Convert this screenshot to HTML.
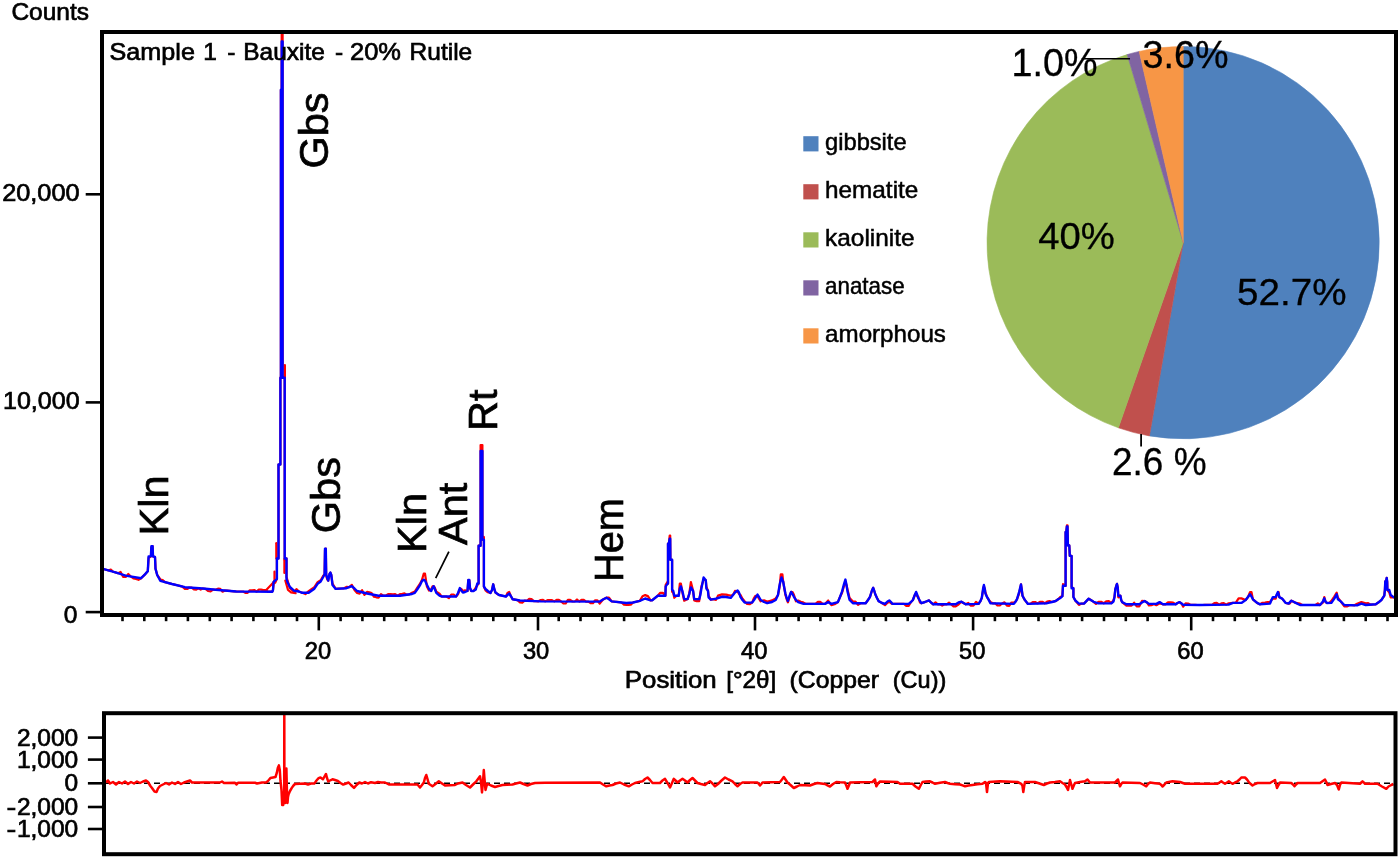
<!DOCTYPE html>
<html lang="en">
<head>
<meta charset="utf-8">
<title>Sample 1 - Bauxite - 20% Rutile</title>
<style>
html,body{margin:0;padding:0;background:#fff;}
body{width:1400px;height:859px;overflow:hidden;}
svg{display:block;filter:blur(0.5px);}
text{font-family:'Liberation Sans', sans-serif;fill:#000;}
.ui text{stroke:#000;stroke-width:0.7px;}
#pie text{stroke:#000;stroke-width:0.3px;}
.lg text{stroke:#000;stroke-width:0.5px;}
.rl text{stroke:#000;stroke-width:0.7px;}
</style>
</head>
<body>
<svg width="1400" height="859" viewBox="0 0 1400 859">
<rect x="0" y="0" width="1400" height="859" fill="#ffffff"/>
<defs>
<clipPath id="cm"><rect x="102" y="32" width="1294" height="583"/></clipPath>
<clipPath id="cr"><rect x="104" y="713" width="1292" height="141"/></clipPath>
</defs>

<g id="pie">
<path d="M1183.2 242.6 L1183.2 46.4 A196.2 196.2 0 1 1 1149.4 435.9 Z" fill="#4f81bd" stroke="#4f81bd" stroke-width="0.6"/>
<path d="M1183.2 242.6 L1149.4 435.9 A196.2 196.2 0 0 1 1118.4 427.8 Z" fill="#c0504d" stroke="#c0504d" stroke-width="0.6"/>
<path d="M1183.2 242.6 L1118.4 427.8 A196.2 196.2 0 0 1 1127.2 54.6 Z" fill="#9bbb59" stroke="#9bbb59" stroke-width="0.6"/>
<path d="M1183.2 242.6 L1127.2 54.6 A196.2 196.2 0 0 1 1139.2 51.4 Z" fill="#8064a2" stroke="#8064a2" stroke-width="0.6"/>
<path d="M1183.2 242.6 L1139.2 51.4 A196.2 196.2 0 0 1 1183.2 46.4 Z" fill="#f79646" stroke="#f79646" stroke-width="0.6"/>
<line x1="1081.7" y1="58.8" x2="1130" y2="58.8" stroke="#000" stroke-width="1.6"/>
<line x1="1141.1" y1="434" x2="1141.1" y2="446.5" stroke="#000" stroke-width="1.8"/>
<text x="1011.5" y="75.5" font-size="38.5" text-anchor="start" textLength="86" lengthAdjust="spacingAndGlyphs">1.0%</text>
<text x="1142.5" y="68.1" font-size="38.5" text-anchor="start" textLength="86" lengthAdjust="spacingAndGlyphs">3.6%</text>
<text x="1038.3" y="248.9" font-size="37.5" text-anchor="start" textLength="76.5" lengthAdjust="spacingAndGlyphs">40%</text>
<text x="1237" y="304.9" font-size="37.5" text-anchor="start" textLength="109.5" lengthAdjust="spacingAndGlyphs">52.7%</text>
<text x="1112" y="474.6" font-size="38.5" text-anchor="start" textLength="94.5" lengthAdjust="spacingAndGlyphs">2.6 %</text>
</g>
<g class="lg">
<rect x="803.3" y="136.2" width="15.2" height="15.2" fill="#4f81bd"/>
<text x="825.1" y="150" font-size="23.4" text-anchor="start" textLength="81.5" lengthAdjust="spacingAndGlyphs">gibbsite</text>
<rect x="803.3" y="184.2" width="15.2" height="15.2" fill="#c0504d"/>
<text x="825.1" y="198" font-size="23.4" text-anchor="start" textLength="93.2" lengthAdjust="spacingAndGlyphs">hematite</text>
<rect x="803.3" y="232.3" width="15.2" height="15.2" fill="#9bbb59"/>
<text x="825.1" y="246.1" font-size="23.4" text-anchor="start" textLength="89.4" lengthAdjust="spacingAndGlyphs">kaolinite</text>
<rect x="803.3" y="280.3" width="15.2" height="15.2" fill="#8064a2"/>
<text x="825.1" y="294.1" font-size="23.4" text-anchor="start" textLength="79.5" lengthAdjust="spacingAndGlyphs">anatase</text>
<rect x="803.3" y="328.3" width="15.2" height="15.2" fill="#f79646"/>
<text x="825.1" y="342.1" font-size="23.4" text-anchor="start" textLength="120.8" lengthAdjust="spacingAndGlyphs">amorphous</text>
</g>
<g clip-path="url(#cm)" fill="none" stroke-linejoin="round" stroke-linecap="round">
<polyline stroke="#ff0000" stroke-width="2.2" points="102,568 103.9,569.2 106.2,569.8 108.5,570.5 110.8,569.5 113.1,571.8 115.4,572.4 118,573.2 120.6,572 123.1,576.8 125.7,576.9 128.3,574 130.8,576.5 133.4,578.5 136,578.9 138.5,579.8 141.1,578.2 145,574.4 147.8,571.1 148.6,558 150.9,556.4 151.4,547.4 152.6,546.1 153,556.4 155,557 155.5,568.6 157.2,575 160.4,579.5 162.7,580.1 165,582.1 167.4,582.7 169.7,583.4 172,584 174.6,584.6 177.2,585.3 179.7,585.9 182.3,586.6 184.9,588.8 187.2,589 189.4,587.5 191.7,587.7 193.9,589.5 196.2,589.6 198.4,588.2 200.7,589.6 202.9,588.5 205.5,588.8 208,591 210.6,591.3 213.1,589.5 215.7,589.8 218,588.7 220.3,588.9 222.6,591.7 224.9,590.6 227.1,590.7 229.4,590.9 231.7,591.1 234,591.3 236.3,591.5 238.6,591.5 240.8,591.5 243.1,591.5 245.3,592.8 247.6,592.9 249.8,590.3 252.1,590.3 254.3,590 256.6,591.6 258.8,589.6 261.1,589.6 263.3,590.1 265.6,590.1 267.8,591.7 270.1,591.7 272.3,591.7 273,590 273.6,583.6 275.3,582.5 276.9,578.9 276.9,558.5 278.5,558.5 278.5,464.5 280.4,464.5 280.4,377.7 280.9,377.7 280.9,89.8 281.7,89.8 281.7,20 282.6,20 282.6,376.1 284.7,377.7 284.7,560.1 286.5,558.5 286.5,576.9 287.5,580.2 289.9,588.3 294,592 296.4,589.1 298.9,591.5 302.2,592.8 305.4,594.1 308.7,591.2 311.5,589.1 314.4,587.1 317.6,582.2 320.7,580.2 323.2,575.7 324.6,574.3 325,550.2 325.8,548.6 326.2,575.9 327.2,579.3 328.2,580.7 329.5,574 330.4,572.6 331.3,575 332.5,583.7 335.7,588.9 338.4,588.7 341,588.5 343.7,588.4 346.4,586.9 349.1,587.2 351.8,584.8 354.5,590.1 357.1,593 359.6,593.6 362.1,590.2 364.5,594.9 367,591.9 369.3,592.3 371.6,593.1 374,596.8 376.3,597.3 378.6,597.7 381,594.1 383.4,595.7 385.7,595.7 388.1,594.1 390.5,594.1 392.9,594.4 395.2,594.1 397.6,595.7 400,594.1 402.3,593.8 404.5,593.4 406.8,594.7 409.4,594.4 412,592.7 414.8,591.6 417.5,587.4 420.2,583.5 422,579.7 423.7,573.7 425,573.7 426.9,586.4 429,590.6 431.2,589.4 432.5,586.4 433.7,586.2 434.8,587.7 436.3,591.6 439.5,593.6 441.6,596.5 444,596.5 446.4,596.5 448.9,598.1 451.3,594.5 453.7,594.5 456.1,596.5 458,594.3 459.9,589.3 461.3,588.9 462.9,591 465,590.4 467.5,591 468.3,580 469.3,580 470,588 471.3,591 473.5,591 475.8,587.5 477.3,585.5 478.6,583.5 478.6,545.7 480.6,545.7 480.6,445 482.4,445 482.4,539.6 483.9,537 483.9,586.5 485.5,590.3 487.9,592.3 490.5,593 492,590 493.2,584.3 494.3,589 495.5,592.6 499,595 501.3,595.5 503.6,596 505.9,596.5 507.5,593 509.2,592 510.8,596 512.6,599.2 515.1,599.6 517.5,600.1 520,602.5 522.3,602.6 524.6,600.7 526.9,600.8 529.2,598.9 531.5,599 533.8,601.1 536.1,601.2 538.4,601.3 540.7,600.1 543,599.8 545.2,601.4 547.5,600.1 549.8,600.1 552,600.1 554.3,601.4 556.6,599.9 558.9,599.9 561.1,601.5 563.4,603.5 565.7,603.5 567.9,599.9 570.2,599.9 572.5,601.5 574.7,601.5 577,599.5 579.3,601.5 581.5,599.9 583.8,599.9 586.1,601.6 588.4,601.6 590.6,603.2 592.9,603.2 595.2,600.3 597.4,600.3 599.7,603.6 603,599.5 606.4,597.7 609,597.7 611.7,601.4 614.2,601.7 616.6,601.9 619,602.2 621.5,602.5 624,604.7 626.4,605 628.6,604.8 630.8,604.7 633,602.5 635.3,602 637.5,601.4 639.8,600.9 642.5,596.3 645.2,595.1 647.9,596.1 650.6,600.4 652.2,600.2 655,598 657.7,595.8 660.3,592.8 662.8,592.8 665.4,595.8 665.7,584.8 667.7,581.6 668,583.6 668,543.8 669,542.7 669.7,535.5 670.2,535.5 670.4,559.8 672.1,559.8 672.1,591.7 673.2,592.8 674.3,597.8 676.5,595.8 678.7,595.8 679.8,583.6 680.9,583.6 682.6,593.5 684.2,600.7 687.6,599.1 689.2,594.1 690.9,582 693.1,590.8 694.2,600.4 696.7,601.1 699.2,601.1 700.3,593.2 701.4,586.6 703.6,579.5 705.8,580.3 706.4,586.6 708,590.8 708.6,595.8 710.8,599.6 713.4,599.1 716,599.9 718,595.6 722,594.4 726,594.6 728.4,595.1 730.7,595.5 733,595 735,590.9 737.6,591.7 739,593.8 740.4,594.8 742.5,598.7 744.6,601.3 747.1,603.9 749.6,604.2 752.1,602.6 754,598 755.4,595.9 757.5,596.2 759,598.6 760.7,601.3 764,600.4 767.1,601.6 769.5,601 772,600.4 775.7,598.4 778,595 779.6,587 780.8,574.3 781.5,574.3 782.4,574.3 783.2,581.8 784.3,588 785.4,594.9 786.7,599.3 787.9,602.3 789.5,597.3 791.1,591.9 792.5,592 793.9,594.8 796,601.3 798.2,600.5 800.9,601.7 803.6,602.6 806,603.9 808.4,603.9 810.7,603.9 813.1,603.9 815.5,603.9 817.9,601.9 820.2,601.9 822.6,603.9 825,603.9 828.2,600.5 831.4,605.2 834.6,604.3 837.9,602.1 840,597 842.1,592.7 844,586 845.4,581.6 846.5,585 847.5,589.4 849.6,598 852.9,601.6 855.5,601.6 858,604.8 860.6,603.2 863.1,603.2 865.7,603.2 868,600 870,596.8 871.8,591 873.2,587.8 874.3,591 875.4,594.6 877,598 878.6,601.1 882,603 885,605.2 887.5,602.8 889.3,601.7 891,603.3 892.5,603.9 894.8,603.9 897.1,603.9 899.4,603.9 901.7,603.9 904,603.9 906.3,605.9 908.6,605.9 911,602 912.9,600 914.8,595 916.1,593.2 917.3,596.3 918.2,596.6 920,602.6 921.4,603.2 925,602 928.9,600.4 931,602.5 933.2,604.3 935.5,602.3 937.7,604.3 940,604.3 942.2,605.6 944.5,604.3 946.7,604.3 949,602.7 951.2,604.3 953.5,606.3 955.7,606.3 958.5,604.5 961.4,601.7 963.5,603 965.7,604.3 968.3,602.9 970.9,605.7 973.4,605.7 976,602 978.6,603.9 980.5,601 981.8,597.9 983.2,589.3 983.9,586.3 984.8,589 985.4,592 987,597 988.2,598.9 990.4,601.9 992.8,603.3 995.1,603.3 997.4,605.4 999.8,605.5 1002.1,603.5 1004.5,602.3 1006.9,605.7 1009.2,605.8 1011.5,602.5 1013.9,602.6 1016,601 1017.1,598.9 1019.3,593 1021,584.4 1021.8,590 1022.5,595.7 1024.5,599.5 1025.7,601.1 1027.9,603.9 1030.3,603.8 1032.7,602.1 1035.1,602 1037.5,603.5 1039.9,601.9 1042.3,601.8 1044.7,603.3 1047.1,601.6 1049.5,601 1052,602 1055.7,601 1058.5,599 1060.5,596.7 1062.4,596.2 1063,584.2 1065.6,585.8 1065.6,532 1066.3,532 1066.9,525.3 1067.5,525.3 1067.9,544.2 1069.3,545.5 1069.8,555.9 1071.6,555.9 1071.6,586.7 1073.4,588.3 1073.4,596.9 1075.3,600.5 1078.9,604.9 1081.5,603.6 1084,603.6 1086.3,601.2 1088.7,598.7 1091.2,600.2 1093.6,601.8 1096,603.9 1098.5,601.8 1101.1,601.8 1103.7,603.3 1106.2,601.3 1108.8,601.2 1111.4,603.2 1113.5,600.2 1114.5,597 1115.3,589.3 1116.4,585.5 1117,583.9 1117.8,588 1118.3,597.3 1120.4,595.7 1121.2,600 1122.1,602.1 1126.4,605.6 1129,605.6 1131.6,605.6 1134.1,602.7 1136.7,606.3 1139.3,606.3 1142,600.9 1144.6,601 1147,602.5 1148.9,605.5 1151.4,605.2 1153.9,603.9 1156.4,605.2 1159.6,603.4 1162.9,604.3 1165.5,604.3 1168,602.3 1170.6,602.3 1173.1,602.7 1175.7,604.3 1177.5,603 1179.6,602.1 1181.5,603.5 1183.2,606.7 1185.6,603.4 1188,603.5 1190.4,604.8 1192.8,604.9 1195.2,604.9 1197.6,605 1200,605 1202.4,605 1204.8,604.9 1207.2,604.9 1209.5,604.9 1211.9,604.8 1214.3,603.2 1216.7,602.8 1219.1,604.7 1221.4,603.4 1223.8,603.1 1226.2,604.6 1228.6,603.3 1232.9,602.9 1235.7,602.9 1238.6,598.4 1241.4,598.4 1245.7,600 1248,597 1250,592.2 1251.5,592.2 1252.9,599.3 1257.1,602.9 1260,604.3 1262.5,602.8 1265,602.7 1267.5,602.2 1270,602 1271.5,600 1272.9,598.7 1275.7,598.7 1277,594 1277.9,594.1 1278.6,592 1279.3,597.1 1282.1,598.6 1285.7,602.9 1288.6,603.6 1290,603.3 1291.4,600.7 1293.5,601.8 1295.7,602.9 1300,603.7 1302.2,605 1304.4,605 1306.7,605 1308.9,605 1311.1,605 1313.3,605 1315.6,605 1317.8,603.4 1320,605 1322.9,602.7 1324.3,597 1325.7,602.1 1327,603 1329.2,603 1331.4,600.9 1334.3,596.6 1336.7,592.7 1337.9,597.7 1340.7,601.4 1344.3,606.3 1346.9,606.4 1349.4,605.2 1352,605.2 1354.5,605.3 1357.1,603.8 1361.4,602 1365.7,603.4 1368.2,603.2 1370.7,604.6 1373.2,604.5 1375.7,604.3 1379,602 1381.4,600 1384.3,595.7 1384.9,590 1385.3,581.4 1386.3,582 1386.7,577.9 1387.2,582 1387.4,590 1389.3,592.5 1390.7,597.5 1393.6,597.1 1396,598"/>
<polyline stroke="#ff0000" stroke-width="2.2" points="266,590.2 273.4,582.4 274.5,580.5 274.5,571.5"/>
<polyline stroke="#ff0000" stroke-width="2.2" points="276.3,558.5 276.3,543.2"/>
<polyline stroke="#ff0000" stroke-width="2.2" points="284.4,559 284.4,573"/>
<polyline stroke="#ff0000" stroke-width="2.2" points="285.3,580.5 288,590 291,592.3 295.6,593.2"/>
<polyline stroke="#ff0000" stroke-width="2.2" points="284.9,365.2 284.9,377.7"/>
<polyline stroke="#0000ff" stroke-width="2.4" points="102,568 103.9,569.2 115.4,572.4 125.7,575.6 141.1,578.2 145,574.4 147.8,571.1 148.6,556.4 150.9,556.4 151.4,546.1 152.6,546.1 153,556.4 155,557 155.5,568.6 157.2,575 160.4,580.8 172,584 184.9,587.2 202.9,588.5 215.7,589.8 236.3,591.5 272.3,591.7 273,590 273.6,582 275.3,580.5 276.9,578.9 276.9,558.5 278.5,558.5 278.5,464.5 280.4,464.5 280.4,377.7 280.9,377.7 280.9,89.8 281.7,89.8 281.7,41.5 282.6,41.5 282.6,377.7 284.7,377.7 284.7,558.5 286.5,558.5 286.5,578.9 287.5,582.2 289.9,587 294,590.7 298.9,591.5 302.2,592.8 308.7,592.8 314.4,588.7 317.6,583.8 320.7,581.5 323.2,577 324.6,574.3 325,548.6 325.8,548.6 326.2,574.3 327.2,578 328.2,580.7 329.5,574 330.4,572.6 331.3,575 332.5,585 335.7,588.9 346.4,588.2 351.8,586.1 354.5,588.5 357.1,591 367,593.5 378.6,595.7 400,595.7 406.8,594.7 412,594 414.8,592.9 417.5,589 420.2,584.8 422,581 423.7,579.7 425,580.5 426.9,584.8 429,589 431.2,591 432.5,588 433.7,586.2 434.8,589 436.3,592.9 439.5,595.6 441.6,596.5 456.1,596.5 458,593 459.9,588 461.3,590.5 462.9,592.6 465,592 467.5,591 468.3,580 469.3,580 470,588 471.3,591 473.5,591 475.8,589.5 477.3,583.5 478.6,583.5 478.6,545.7 480.6,545.7 480.6,451 482.4,451 482.4,539.6 483.9,539.6 483.9,586.5 485.5,589 487.9,591 490.5,593 492,590 493.2,584.3 494.3,589 495.5,592.6 499,595 505.9,596.5 507.5,595 509.2,593.6 510.8,596 512.6,599.2 520,600.5 540.7,601.4 599.7,601.6 603,599.5 606.4,597.7 609,599.3 611.7,601.4 626.4,603 633,602.5 639.8,600.9 645.2,598.5 650.6,600.4 652.2,600.2 657.7,595.8 665.4,595.8 665.7,586.4 667.7,583.6 668,583.6 668,543.8 669,542.7 669.7,538.8 670.2,538.8 670.4,559.8 672.1,559.8 672.1,589.7 673.2,590.8 674.3,595.8 678.7,595.8 679.8,588.6 680.9,586.4 682.6,591.9 684.2,599.1 687.6,599.1 689.2,594.1 690.9,587.5 693.1,590.8 694.2,599.1 699.2,599.1 700.3,595.2 701.4,588.6 703.6,577.5 705.8,580.3 706.4,588.6 708,590.8 708.6,597.4 710.8,599.6 716,598.6 718,598 722,596.8 726,597 730.7,597.9 733,595 735,592.5 737.6,590.4 739,592.5 740.4,596.8 742.5,600 744.6,602.6 752.1,602.6 754,600 755.4,597.9 757.5,594.6 759,597 760.7,600 764,602 767.1,603.2 772,602 775.7,600 778,595 779.6,585 780.8,580 781.5,577.5 782.4,580 783.2,581.8 784.3,588 785.4,593.6 786.7,598 787.9,601 789.5,596 791.1,591.9 792.5,594 793.9,596.8 796,600 798.2,602.1 803.6,603.9 825,603.9 828.2,602.1 831.4,603.9 837.9,602.1 840,597 842.1,591.4 844,584 845.4,579.6 846.5,585 847.5,591.4 849.6,600 852.9,603.2 865.7,603.2 868,600 870,596.8 871.8,591 873.2,587.8 874.3,591 875.4,594.6 877,598 878.6,601.1 882,603 885,603.9 887.5,601.5 889.3,600.4 891,602 892.5,603.9 908.6,603.9 911,602 912.9,600 914.8,595 916.1,591.9 917.3,595 918.2,597.9 920,601 921.4,603.2 925,602 928.9,600.4 931,602.5 933.2,604.3 955.7,604.3 958.5,602.5 961.4,601.7 963.5,603 965.7,604.3 978.6,603.9 980.5,601 981.8,597.9 983.2,588 983.9,585 984.8,589 985.4,593.6 987,597 988.2,598.9 990.4,603.2 1013.9,603.9 1016,601 1017.1,598.9 1019.3,591.4 1021,584.4 1021.8,590 1022.5,595.7 1024.5,599.5 1025.7,601.1 1027.9,603.9 1047.1,603.2 1052,602 1055.7,601 1058.5,599 1060.5,598 1062.4,596.2 1063,585.8 1065.6,585.8 1065.6,532 1066.3,532 1066.9,526.5 1067.5,526.5 1067.9,545.5 1069.3,545.5 1069.8,555.9 1071.6,555.9 1071.6,588.3 1073.4,588.3 1073.4,596.9 1075.3,600.5 1078.9,603.6 1084,603.6 1088.7,598.7 1093.6,601.8 1098.5,603.4 1111.4,603.2 1113.5,601.5 1114.5,597 1115.3,589.3 1116.4,585.5 1117,583.9 1117.8,588 1118.3,595.7 1120.4,595.7 1121.2,600 1122.1,602.1 1126.4,604.3 1139.3,604.3 1142,602.5 1144.6,601 1147,602.5 1148.9,603.9 1156.4,603.9 1159.6,602.1 1162.9,604.3 1175.7,604.3 1177.5,603 1179.6,602.1 1181.5,603.5 1183.2,604.7 1200,605 1228.6,604.6 1232.9,602.9 1241.4,602.9 1245.7,600 1248,597 1250,594.3 1251.5,596.5 1252.9,599.3 1257.1,602.9 1260,604.3 1270,603.6 1271.5,600 1272.9,597.1 1275.7,597.1 1277,594 1277.9,592.1 1278.6,594 1279.3,597.1 1282.1,598.6 1285.7,602.9 1288.6,603.6 1290,602 1291.4,600.7 1293.5,601.8 1295.7,602.9 1300,605 1320,605 1322.9,601.4 1324.3,598.3 1325.7,602.1 1327,603 1331.4,602.9 1334.3,598.6 1336.7,594.3 1337.9,599.3 1340.7,601.4 1344.3,605 1357.1,605.4 1361.4,603.6 1365.7,605 1375.7,604.3 1379,602 1381.4,600 1384.3,595.7 1384.9,590 1385.3,581.4 1386.3,580 1386.7,577.9 1387.2,582 1387.4,590 1389.3,590 1390.7,595 1393.6,597.1 1396,598"/>
</g>
<g stroke="#000" fill="none">
<rect x="102" y="32" width="1294" height="583" stroke-width="4"/>
<g stroke-width="2.6">
<line x1="122.5" y1="616" x2="122.5" y2="621.2"/>
<line x1="144.3" y1="616" x2="144.3" y2="621.2"/>
<line x1="166.1" y1="616" x2="166.1" y2="621.2"/>
<line x1="187.9" y1="616" x2="187.9" y2="621.2"/>
<line x1="209.8" y1="616" x2="209.8" y2="621.2"/>
<line x1="231.6" y1="616" x2="231.6" y2="621.2"/>
<line x1="253.4" y1="616" x2="253.4" y2="621.2"/>
<line x1="275.2" y1="616" x2="275.2" y2="621.2"/>
<line x1="297" y1="616" x2="297" y2="621.2"/>
<line x1="318.8" y1="616" x2="318.8" y2="630.4"/>
<line x1="340.6" y1="616" x2="340.6" y2="621.2"/>
<line x1="362.4" y1="616" x2="362.4" y2="621.2"/>
<line x1="384.2" y1="616" x2="384.2" y2="621.2"/>
<line x1="406" y1="616" x2="406" y2="621.2"/>
<line x1="427.9" y1="616" x2="427.9" y2="621.2"/>
<line x1="449.7" y1="616" x2="449.7" y2="621.2"/>
<line x1="471.5" y1="616" x2="471.5" y2="621.2"/>
<line x1="493.3" y1="616" x2="493.3" y2="621.2"/>
<line x1="515.1" y1="616" x2="515.1" y2="621.2"/>
<line x1="538" y1="616" x2="538" y2="630.4"/>
<line x1="558.7" y1="616" x2="558.7" y2="621.2"/>
<line x1="580.5" y1="616" x2="580.5" y2="621.2"/>
<line x1="602.3" y1="616" x2="602.3" y2="621.2"/>
<line x1="624.1" y1="616" x2="624.1" y2="621.2"/>
<line x1="646" y1="616" x2="646" y2="621.2"/>
<line x1="667.8" y1="616" x2="667.8" y2="621.2"/>
<line x1="689.6" y1="616" x2="689.6" y2="621.2"/>
<line x1="711.4" y1="616" x2="711.4" y2="621.2"/>
<line x1="733.2" y1="616" x2="733.2" y2="621.2"/>
<line x1="755" y1="616" x2="755" y2="630.4"/>
<line x1="776.8" y1="616" x2="776.8" y2="621.2"/>
<line x1="798.6" y1="616" x2="798.6" y2="621.2"/>
<line x1="820.4" y1="616" x2="820.4" y2="621.2"/>
<line x1="842.2" y1="616" x2="842.2" y2="621.2"/>
<line x1="864" y1="616" x2="864" y2="621.2"/>
<line x1="885.9" y1="616" x2="885.9" y2="621.2"/>
<line x1="907.7" y1="616" x2="907.7" y2="621.2"/>
<line x1="929.5" y1="616" x2="929.5" y2="621.2"/>
<line x1="951.3" y1="616" x2="951.3" y2="621.2"/>
<line x1="973.1" y1="616" x2="973.1" y2="630.4"/>
<line x1="994.9" y1="616" x2="994.9" y2="621.2"/>
<line x1="1016.7" y1="616" x2="1016.7" y2="621.2"/>
<line x1="1038.5" y1="616" x2="1038.5" y2="621.2"/>
<line x1="1060.3" y1="616" x2="1060.3" y2="621.2"/>
<line x1="1082.1" y1="616" x2="1082.1" y2="621.2"/>
<line x1="1104" y1="616" x2="1104" y2="621.2"/>
<line x1="1125.8" y1="616" x2="1125.8" y2="621.2"/>
<line x1="1147.6" y1="616" x2="1147.6" y2="621.2"/>
<line x1="1169.4" y1="616" x2="1169.4" y2="621.2"/>
<line x1="1191.2" y1="616" x2="1191.2" y2="630.4"/>
<line x1="1213" y1="616" x2="1213" y2="621.2"/>
<line x1="1234.8" y1="616" x2="1234.8" y2="621.2"/>
<line x1="1256.6" y1="616" x2="1256.6" y2="621.2"/>
<line x1="1278.4" y1="616" x2="1278.4" y2="621.2"/>
<line x1="1300.2" y1="616" x2="1300.2" y2="621.2"/>
<line x1="1322.1" y1="616" x2="1322.1" y2="621.2"/>
<line x1="1343.9" y1="616" x2="1343.9" y2="621.2"/>
<line x1="1365.7" y1="616" x2="1365.7" y2="621.2"/>
<line x1="1387.5" y1="616" x2="1387.5" y2="621.2"/>
<line x1="85.7" y1="194.3" x2="101" y2="194.3"/>
<line x1="85.7" y1="402.4" x2="101" y2="402.4"/>
<line x1="85.7" y1="612.1" x2="101" y2="612.1"/>
</g></g>
<g class="ui">
<text x="11.4" y="20" font-size="24.5" text-anchor="start" textLength="77.6" lengthAdjust="spacingAndGlyphs">Counts</text>
<text y="59.5" font-size="24.5"><tspan x="109.6" textLength="85.3" lengthAdjust="spacingAndGlyphs">Sample</tspan> <tspan x="203.2">1</tspan> <tspan x="227.2">-</tspan> <tspan x="243.3" textLength="81.6" lengthAdjust="spacingAndGlyphs">Bauxite</tspan> <tspan x="334.9">-</tspan> <tspan x="350" textLength="51" lengthAdjust="spacingAndGlyphs">20%</tspan> <tspan x="409.6" textLength="62.6" lengthAdjust="spacingAndGlyphs">Rutile</tspan></text>
<text x="79.6" y="201.4" font-size="24.5" text-anchor="end" textLength="77.4" lengthAdjust="spacingAndGlyphs">20,000</text>
<text x="79.6" y="409.3" font-size="24.5" text-anchor="end" textLength="76.6" lengthAdjust="spacingAndGlyphs">10,000</text>
<text x="77.3" y="622.6" font-size="24.5" text-anchor="end">0</text>
<text x="318" y="658.9" font-size="24.5" text-anchor="middle" textLength="26.4" lengthAdjust="spacingAndGlyphs">20</text>
<text x="536.1" y="658.9" font-size="24.5" text-anchor="middle" textLength="26.4" lengthAdjust="spacingAndGlyphs">30</text>
<text x="754.2" y="658.9" font-size="24.5" text-anchor="middle" textLength="26.4" lengthAdjust="spacingAndGlyphs">40</text>
<text x="972.3" y="658.9" font-size="24.5" text-anchor="middle" textLength="26.4" lengthAdjust="spacingAndGlyphs">50</text>
<text x="1190.4" y="658.9" font-size="24.5" text-anchor="middle" textLength="26.4" lengthAdjust="spacingAndGlyphs">60</text>
<text y="687.6" font-size="24.5"><tspan x="624.8" textLength="91.9" lengthAdjust="spacingAndGlyphs">Position</tspan> <tspan x="726.2" textLength="50.1" lengthAdjust="spacingAndGlyphs">[°2θ]</tspan> <tspan x="789.6" textLength="89.4" lengthAdjust="spacingAndGlyphs">(Copper</tspan> <tspan x="892.8" textLength="53.5" lengthAdjust="spacingAndGlyphs">(Cu))</tspan></text>
</g>
<g class="rl">
<text transform="translate(327.6 168.6) rotate(-90)" font-size="41.5">Gbs</text>
<text transform="translate(168 535.4) rotate(-90)" font-size="41.5">Kln</text>
<text transform="translate(339.5 533.2) rotate(-90)" font-size="41.5">Gbs</text>
<text transform="translate(425.5 553) rotate(-90)" font-size="41.5">Kln</text>
<text transform="translate(467.4 545) rotate(-90)" font-size="41.5">Ant</text>
<text transform="translate(497.2 431) rotate(-90)" font-size="41.5">Rt</text>
<text transform="translate(623 582) rotate(-90)" font-size="41.5" textLength="84" lengthAdjust="spacingAndGlyphs">Hem</text>
<line x1="435.7" y1="578.2" x2="448.9" y2="551.7" stroke="#000" stroke-width="1.7"/>
</g>
<g clip-path="url(#cr)" fill="none" stroke-linejoin="round">
<line x1="104" y1="783.2" x2="1396" y2="783.2" stroke="#000" stroke-width="1.6" stroke-dasharray="6 4"/>
<polyline stroke="#ff0000" stroke-width="2.5" points="106,782.5 108,780.5 110,783.5 113,782 116,784.5 119,782 122,783.5 125,781.5 128,784 131,782 134,783.5 137,781.5 140,783 143,781.5 146,780.5 148,782 150.4,786 152,788 154.5,791.5 156.5,792 158,788.5 160,786 163,784.5 166,783 169,784.5 172,782.5 175,784 178,782 181,784 184,782.5 187,781.5 190,780.5 192,782.5 195,782.5 220,782.5 222,781.5 224,783 235,782.8 236.5,784.5 238,782.8 255,782.8 257,783.5 262,782.5 266,782.5 268,781 270.4,778 273,777.5 275.5,777 276.8,772.9 277.8,768 278.9,765.4 279.8,770 280.5,781 281.5,790 282.2,805 283.2,805 284.2,790 284.3,712 284.4,790 285.3,802.9 285.9,790 286.4,768.6 286.9,790 287.5,802.9 288,797 288.6,794.3 290,791 291.8,787.9 293.5,785.5 295,784 300,783.8 305,783.5 308,784.5 311,783.5 314.3,783.6 316.5,780.5 318.6,778.2 320.5,777.5 322.9,779.3 324.5,776.5 326,774 327,778 328.2,781.4 330,780.5 332.5,779.3 335,780 337.9,781 340.5,783 343.2,784.6 346,783.5 348.6,782.5 351,785 354,787.9 356.5,785 359.3,782.5 362,783.5 365,782 368,783.5 371,782.2 375,783 378,782 381,782.5 385,782.5 387,783.5 389.3,784.6 400,784.6 417.5,784.5 420,787.5 422,785 423.8,782.5 425,778 426.3,775 427.5,779 428.8,783.8 432.5,786.3 435.5,784 438.8,781.3 442,783.5 445,785.5 450,785.2 455,785 458,783.5 462.5,782.5 466,785 470,787.5 473,784.5 476.3,781.3 478,779 480,776.3 481,782 482,792.5 483,782 483.8,770 484.6,780 485.5,790 486.5,786 487.5,783.8 491,785.5 495,787 498.5,786 502.5,785 507,784.7 512.5,784.5 516,783.5 520,782.5 523.5,784 527.5,785.5 531,784 535,783 545,782.8 600,782.5 603,784.5 606.3,786.3 609.5,785.5 612.5,785 616,783.5 620,782.5 624,784.5 628.8,786.3 632,784.5 635,783 639,782 642.5,781.3 645,779 647.5,777.5 650,780 652.5,783 660,783 662.5,780.5 665,778.8 667.5,783 670,787.5 672,783 673.8,778.8 675.5,780.5 677.5,782.5 680,780.5 682.5,778.8 685,780.5 687.5,782.5 690,780 692.5,778 695,780.5 697.5,783 701,784 705,785 707.5,783 710,781.3 712.5,783.5 715,786.3 718,784 721,781 725,777.5 728.5,779.5 732.5,781.3 735,784 737.5,786.3 740,784 742.5,782.5 757.5,782.5 758.8,784 760,785.5 761.3,784 762.5,782.5 780,782 782,779.5 783.8,777 785.5,779.5 787.5,782.5 790.5,785 793.8,788 797,786.5 800,785 805,785.3 810,785.5 814,784 817.5,783 821,783.5 825,784 827.5,785.3 830,786.5 833,784 836.3,782 840,782.3 845,782.5 846.5,786 847.5,788.8 848.7,786 850,782.5 860,782.3 872.5,782 874,780.5 875,779.5 875.7,783 876.3,786.3 878,783.5 880,781.5 890,781.8 897.5,782 900,783.8 912.5,783.8 915.5,786.5 918.8,788.8 920.8,785 922.5,782 926,781.5 930,781.3 932.5,782.5 935,783.8 940,782.8 945,782 947.5,783 950,783.8 955,784.2 960,784.5 962.5,785.4 965,786.3 968.5,785.5 972.5,785 977.5,784.3 982.5,783.8 985,782 986,783 987,792 988,783 988.8,782 1000,781.3 1017.5,782 1021.3,783.8 1022.5,786 1023.3,792 1024.2,786 1025,782 1035,782 1039.5,783.5 1043.8,785 1047,783.5 1050,782.5 1055,782 1060,781.3 1062.5,783 1065,784.5 1066.5,787 1068,790 1069,785 1070,780 1071.3,784.5 1072.5,788.8 1073.8,785.5 1075,783 1080,782 1085,781.3 1087.5,779.5 1090,782.5 1115,782.5 1118,779.5 1119,783 1120,786.3 1121.3,784 1122.5,782.5 1140,783 1143,784.5 1146.3,786.3 1148,784 1150,782.5 1155,783.2 1160,783.8 1161.3,785 1162.5,786.5 1164.5,784.5 1166.3,782.5 1172.5,781.3 1180,782 1185,783.8 1217.5,783.8 1219.5,782.5 1221.3,781.3 1223,782.5 1225,783.8 1227,782.5 1228.8,781.3 1230.5,782.5 1232.5,783.8 1235,782.5 1237.5,781.3 1239.5,779.5 1241.3,777.5 1245,777.5 1247,779.5 1248.8,782 1250.5,783.8 1252.5,785.5 1255,784 1257.5,783 1270,783 1272.5,781.5 1275,780 1276,784 1277,788 1278.5,785 1280,782.5 1291.3,783 1293,784.5 1294.5,786.3 1296,784.5 1297.5,783 1320,783 1322.5,781.2 1325,779.5 1326.3,782 1327.5,785 1331,784 1335,783 1337,785 1338.8,789.5 1340,785 1341.3,782.5 1360,783.8 1361.3,782.5 1362.5,781.3 1363.8,782.5 1365,783.8 1377.5,783.8 1382,786.5 1386.3,788.8 1388.5,786.5 1391.3,785 1393.5,784"/>
</g>
<g stroke="#000" fill="none">
<rect x="104" y="713.2" width="1291.5" height="141" stroke-width="4"/>
<g stroke-width="2.6">
<line x1="87.9" y1="737.6" x2="103" y2="737.6"/>
<line x1="87.9" y1="759.6" x2="103" y2="759.6"/>
<line x1="87.9" y1="783.3" x2="103" y2="783.3"/>
<line x1="87.9" y1="807" x2="103" y2="807"/>
<line x1="87.9" y1="829" x2="103" y2="829"/>
</g></g>
<g class="ui">
<text x="78.2" y="745.6" font-size="24.5" text-anchor="end">2,000</text>
<text x="78.2" y="767.6" font-size="24.5" text-anchor="end">1,000</text>
<text x="78.2" y="791.3" font-size="24.5" text-anchor="end">0</text>
<text y="815" font-size="24.5"><tspan x="6.4" textLength="9.8" lengthAdjust="spacingAndGlyphs">-</tspan><tspan x="78.2" text-anchor="end">2,000</tspan></text>
<text y="837" font-size="24.5"><tspan x="6.4" textLength="9.8" lengthAdjust="spacingAndGlyphs">-</tspan><tspan x="78.2" text-anchor="end">1,000</tspan></text>
</g>
</svg>
</body>
</html>
